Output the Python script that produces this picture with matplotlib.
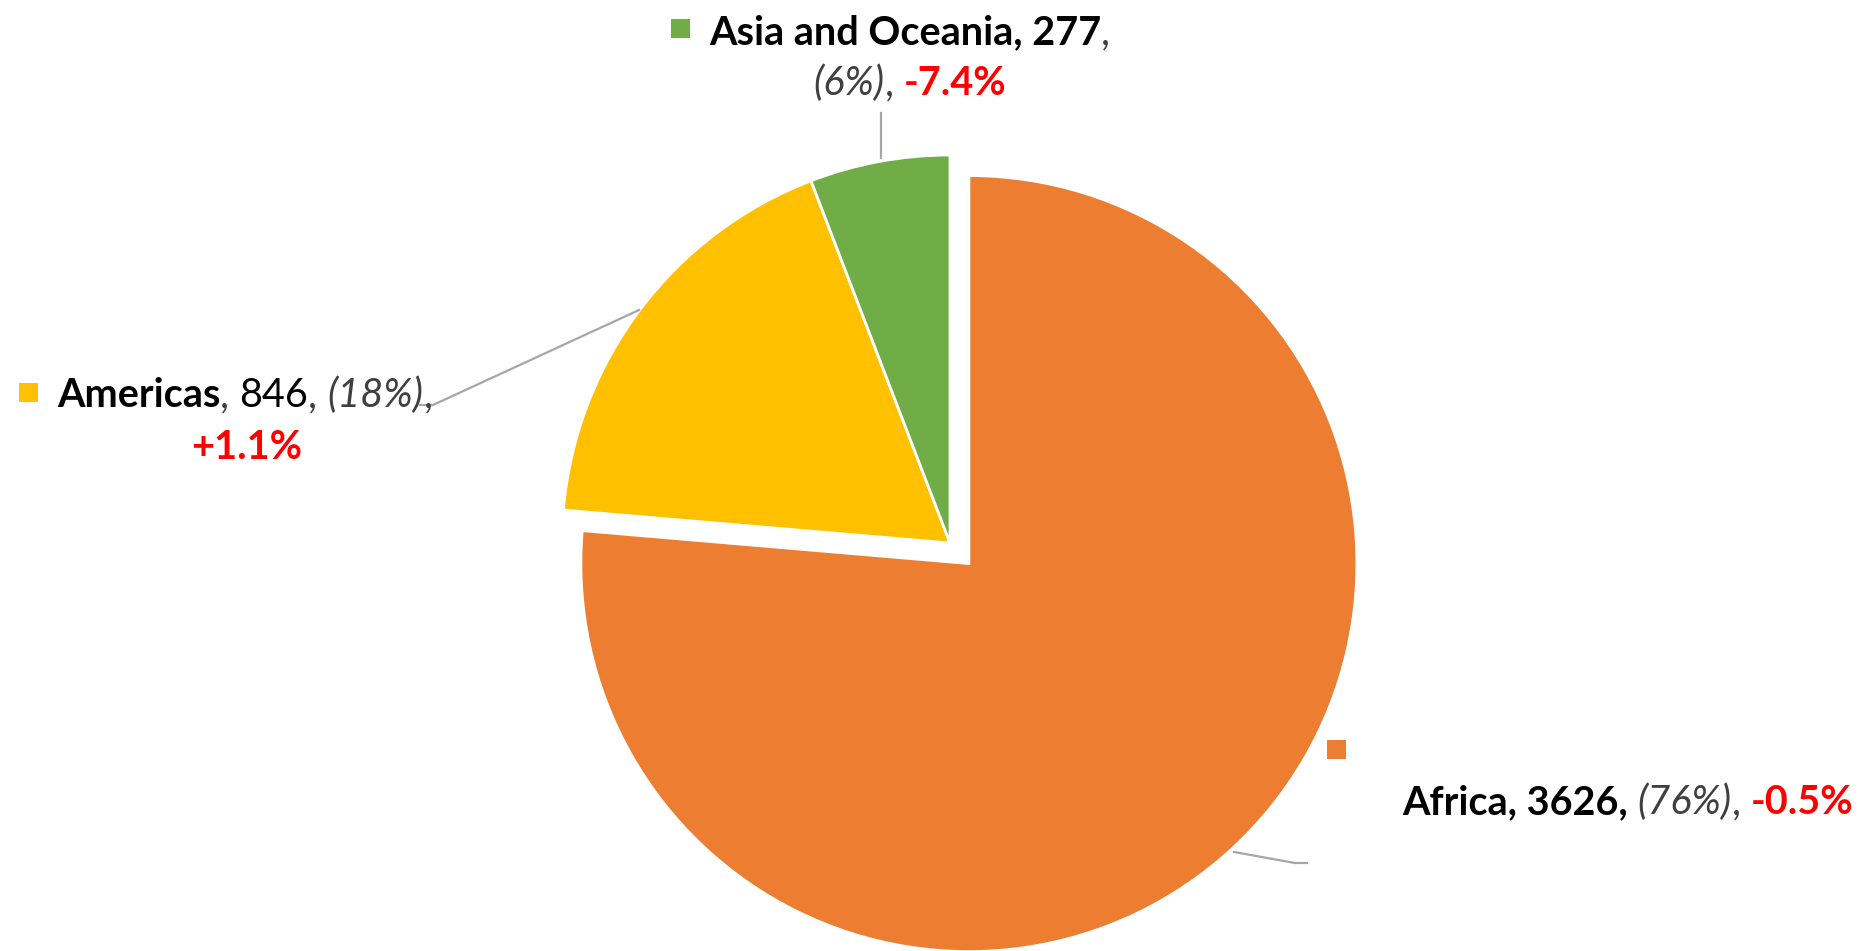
import matplotlib
matplotlib.use('Agg')
import matplotlib.pyplot as plt
from matplotlib.lines import Line2D
from matplotlib.patches import Rectangle

plt.rcParams['font.family'] = ['Lato', 'DejaVu Sans']

# share of staff by region, with change on previous year
regions = ['Africa', 'Americas', 'Asia and Oceania']
counts = [3626, 846, 277]
changes = [-0.5, 1.1, -7.4]
colors = ['#ED7D31', '#FFC000', '#70AD47']

W, H = 1860, 951
FS = 28.5
GREY = '#404040'
RED = '#FF0000'

fig = plt.figure(figsize=(W / 100, H / 100), dpi=100)
ax = fig.add_axes([0, 0, 1, 1])
ax.pie(counts, colors=colors, startangle=90, counterclock=False,
       explode=[0.072, 0, 0], radius=1,
       wedgeprops=dict(edgecolor='white', linewidth=2))
# pie centre sits at (950, 543) px, radius 388 px
R = 388.0
ax.set_xlim(-950 / R, (W - 950) / R)
ax.set_ylim(-(H - 543) / R, 543 / R)
ax.set_aspect('equal')
ax.axis('off')

renderer = fig.canvas.get_renderer()


def rich_line(x, y, parts, ha='left'):
    """draw text pieces side by side, x/y in px from top-left (baseline)"""
    made = []
    for s, kw in parts:
        t = fig.text(0, 0, s, transform=None, fontsize=FS, va='baseline', **kw)
        made.append(t)
    widths = [t.get_window_extent(renderer).width for t in made]
    total = sum(widths)
    if ha == 'center':
        x = x - total / 2
    elif ha == 'right':
        x = x - total
    for t, w in zip(made, widths):
        t.set_position((x, H - y))
        x += w
    return total


def square(x, y, c, s=19):
    fig.patches.append(Rectangle((x, H - y - s), s, s, transform=None,
                                 facecolor=c, edgecolor='none', figure=fig))


def leader(xs, ys):
    fig.lines.append(Line2D(xs, [H - v for v in ys], transform=None,
                            color='#A6A6A6', lw=1.6, figure=fig))


tot = sum(counts)
pct = [round(c / tot * 100) for c in counts]
chg = ['%+.1f%%' % v for v in changes]

bold = dict(fontweight='bold', color='black')
norm = dict(color='black')
ital = dict(style='italic', color=GREY)
gsep = dict(color=GREY)
redb = dict(fontweight='bold', color=RED)

# Asia and Oceania
square(671, 19, colors[2])
rich_line(709, 44, [(regions[2] + ', ' + str(counts[2]), bold), (',', gsep)])
rich_line(910, 95, [('(%d%%)' % pct[2], ital), (', ', gsep), (chg[2], redb)],
          ha='center')
leader([881, 881], [113, 158])

# Americas
square(19, 383, colors[1])
rich_line(57, 407, [(regions[1], bold), (', ', gsep), (str(counts[1]), norm),
                    (', ', gsep), ('(%d%%)' % pct[1], ital), (',', gsep)])
rich_line(247, 459, [(chg[1], redb)], ha='center')
leader([420, 433, 639], [405, 405, 310])

# Africa
square(1327, 740, colors[0])
rich_line(1402, 814, [(regions[0] + ', ' + str(counts[0]) + ', ', bold),
                      ('(%d%%)' % pct[0], ital), (', ', gsep), (chg[0], redb)])
leader([1234, 1295, 1307], [852, 863, 863])

fig.savefig('out.png', dpi=100, facecolor='white')
